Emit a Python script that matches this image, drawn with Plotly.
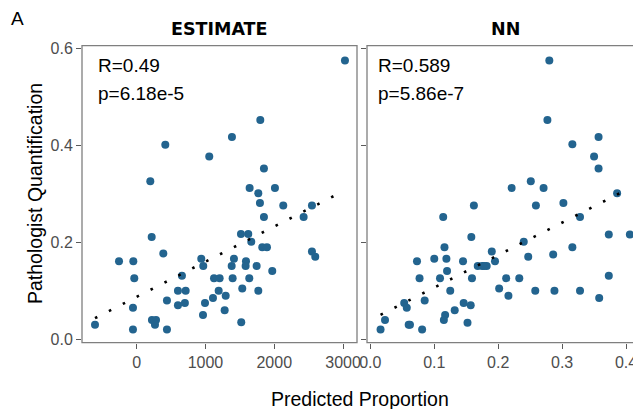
import numpy as np
import plotly.graph_objects as go

# ---- data ----
est_x = [3028, 1797, 1385, 416, 1055, 1850, 198, 1642, 2010, 1768, 1792, 2131, 2548,
         1850, 2427, 218, 1516, 1622, 1666, 1826, 1894, 387, 2548, 2596, -257, -49,
         939, 1414, 1589, 968, 1381, 1584, 1744, 1971, 658, -35, 1124, 1206, 1395,
         1637, 600, 712, 1192, 1535, 1768, 1294, 1109, 440, 600, 701, 993, -54, 1279,
         964, 1520, -606, 222, 281, 266, -54, 440]
est_y = [0.575, 0.452, 0.417, 0.401, 0.377, 0.352, 0.326, 0.312, 0.312, 0.301, 0.281,
         0.276, 0.276, 0.252, 0.252, 0.211, 0.217, 0.217, 0.201, 0.190, 0.190, 0.177,
         0.181, 0.170, 0.161, 0.161, 0.166, 0.166, 0.161, 0.151, 0.151, 0.151, 0.151,
         0.141, 0.131, 0.126, 0.126, 0.126, 0.126, 0.126, 0.100, 0.100, 0.100, 0.105,
         0.100, 0.090, 0.085, 0.080, 0.070, 0.075, 0.075, 0.065, 0.060, 0.050, 0.035,
         0.030, 0.040, 0.040, 0.030, 0.020, 0.020]

nn_x = [0.280, 0.277, 0.357, 0.316, 0.350, 0.357, 0.251, 0.221, 0.271, 0.386, 0.162,
        0.259, 0.302, 0.114, 0.328, 0.158, 0.240, 0.373, 0.406, 0.116, 0.190, 0.316,
        0.073, 0.100, 0.119, 0.145, 0.195, 0.247, 0.286, 0.168, 0.175, 0.182, 0.178,
        0.120, 0.077, 0.109, 0.159, 0.2125, 0.233, 0.373, 0.125, 0.2015, 0.258, 0.288,
        0.328, 0.216, 0.358, 0.085, 0.053, 0.057, 0.146, 0.157, 0.132, 0.117, 0.115,
        0.023, 0.060, 0.062, 0.152, 0.016, 0.081]
nn_y = [0.575, 0.452, 0.417, 0.402, 0.377, 0.352, 0.326, 0.312, 0.312, 0.301, 0.276,
        0.276, 0.281, 0.252, 0.252, 0.211, 0.201, 0.216, 0.216, 0.190, 0.181, 0.190,
        0.161, 0.166, 0.166, 0.161, 0.161, 0.170, 0.175, 0.151, 0.151, 0.151, 0.151,
        0.141, 0.126, 0.126, 0.126, 0.126, 0.126, 0.131, 0.100, 0.105, 0.100, 0.100,
        0.100, 0.090, 0.085, 0.080, 0.075, 0.065, 0.075, 0.070, 0.060, 0.050, 0.040,
        0.040, 0.030, 0.030, 0.034, 0.020, 0.020]

panels = ["ESTIMATE", "NN"]
stats = [("R=0.49", "p=6.18e-5"), ("R=0.589", "p=5.86e-7")]
y_ticks = [0.0, 0.2, 0.4, 0.6]
est_ticks = [0, 1000, 2000, 3000]
nn_ticks = [0.0, 0.1, 0.2, 0.3, 0.4]

W, H = 641, 409
OFF = 8  # page body margin offset
PT = "#23648f"
FONT = "Liberation Sans, Arial, Helvetica, sans-serif"
TICKC = "#4d4d4d"
BORDER = "#7f7f7f"


def px(x):
    return (x - OFF) / W


def py(y):
    return 1 - (y - OFF) / H


fig = go.Figure()


def add_panel(xs, ys, xaxis, yaxis):
    fig.add_trace(go.Scatter(x=xs, y=ys, mode="markers", xaxis=xaxis, yaxis=yaxis,
                             marker=dict(color=PT, size=8, line=dict(width=0)),
                             showlegend=False, hoverinfo="skip"))
    a, b = np.polyfit(xs, ys, 1)
    lx = np.array([min(xs), max(xs)])
    fig.add_trace(go.Scatter(x=lx, y=a * lx + b, mode="lines", xaxis=xaxis, yaxis=yaxis,
                             line=dict(color="black", width=2.6, dash="2.6px,13px"),
                             showlegend=False, hoverinfo="skip"))


add_panel(est_x, est_y, "x", "y")
add_panel(nn_x, nn_y, "x2", "y2")

yb, yt = py(342.7), py(45.7)
d1 = [px(82), px(357)]
d2 = [px(367), 1.0]   # extends past the visible window like the reference

axis_common = dict(showgrid=False, zeroline=False, showline=False, ticks="outside",
                   automargin=False,
                   ticklen=5, tickwidth=1.1, tickcolor="#5a5a5a",
                   tickfont=dict(family=FONT, size=16, color=TICKC))

fig.update_layout(
    width=W, height=H, margin=dict(l=0, r=0, t=0, b=0, autoexpand=False),
    paper_bgcolor="white", plot_bgcolor="white",
    xaxis=dict(domain=d1, range=[-795, 3203], tickvals=est_ticks,
               ticktext=[str(v) for v in est_ticks], anchor="y", **axis_common),
    xaxis2=dict(domain=d2, range=[-0.0052, 0.4359], tickvals=nn_ticks,
                ticktext=[f"{v:.1f}" for v in nn_ticks], anchor="y2", **axis_common),
    yaxis=dict(domain=[yb, yt], range=[-0.007, 0.6054], tickvals=y_ticks,
               ticktext=[f"{v:.1f}" for v in y_ticks], anchor="x", **axis_common),
    yaxis2=dict(domain=[yb, yt], range=[-0.007, 0.6054], tickvals=y_ticks,
                showticklabels=False, anchor="x2", matches="y", **axis_common),
)

# panel borders
fig.add_shape(type="rect", xref="x domain", yref="y domain", x0=0, x1=1, y0=0, y1=1,
              line=dict(color=BORDER, width=1.3), fillcolor="rgba(0,0,0,0)", layer="above")
fig.add_shape(type="rect", xref="x2 domain", yref="y2 domain", x0=0, x1=1.05, y0=0, y1=1,
              line=dict(color=BORDER, width=1.3), fillcolor="rgba(0,0,0,0)", layer="above")

# strip titles
for name, cx in zip(panels, [(82 + 357) / 2, 505]):
    fig.add_annotation(text=f"<b>{name}</b>", xref="paper", yref="paper",
                       x=px(cx), y=py(28.5), showarrow=False,
                       xanchor="center", yanchor="middle",
                       font=dict(family="DejaVu Sans", size=17.5, color="black"))

# stats text
for (r, p), lx in zip(stats, [97.3, 376.7]):
    fig.add_annotation(text=r, xref="paper", yref="paper", x=px(lx - 1), y=py(66),
                       xanchor="left", yanchor="middle", showarrow=False,
                       font=dict(family=FONT, size=19, color="black"))
    fig.add_annotation(text=p, xref="paper", yref="paper", x=px(lx - 1), y=py(93.5),
                       xanchor="left", yanchor="middle", showarrow=False,
                       font=dict(family=FONT, size=19, color="black"))

# axis titles and panel tag
fig.add_annotation(text="Predicted Proportion", xref="paper", yref="paper",
                   x=px(360), y=py(398.5), showarrow=False, xanchor="center",
                   yanchor="middle", font=dict(family=FONT, size=19.5, color="black"))
fig.add_annotation(text="Pathologist Quantification", xref="paper", yref="paper",
                   x=px(35), y=py(194), showarrow=False, textangle=-90,
                   xanchor="center", yanchor="middle",
                   font=dict(family=FONT, size=19.5, color="black"))
fig.add_annotation(text="A", xref="paper", yref="paper", x=px(9), y=py(18),
                   showarrow=False, xanchor="left", yanchor="middle",
                   font=dict(family=FONT, size=19, color="black"))

fig.write_html("out.html")
